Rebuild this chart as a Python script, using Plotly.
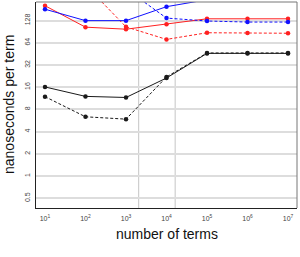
import plotly.graph_objects as go
import math

# ---- data ----
n_terms = [1e1, 1e2, 1e3, 1e4, 1e5, 1e6, 1e7]
black_solid = [16.1, 12.0, 11.6, 21.3, 45.9, 45.9, 45.9]
black_dashed = [11.9, 6.35, 5.9, 22.0, 46.5, 46.5, 46.5]
red_solid = [203, 104, 97.6, 114, 135, 135, 135]
red_dashed = [520, 385, 105, 71, 87.4, 87, 86]
blue_solid = [182, 127.5, 127.5, 197, 245, 260, 260]
blue_dashed = [500, 450, 342, 138, 126, 122, 122]

cache_marks = [2048, 16384]

x_tickvals = [1e1, 1e2, 1e3, 1e4, 1e5, 1e6, 1e7]
x_ticktext = ["10<sup>%d</sup>" % k for k in range(1, 8)]
y_tickvals = [0.5, 1, 2, 4, 8, 16, 32, 64, 128]
y_ticktext = ["0.5", "1", "2", "4", "8", "16", "32", "64", "128"]

FONT = "Liberation Sans, Arial, sans-serif"

series = [
    (black_solid, "#1a1a1a", "solid"),
    (black_dashed, "#1a1a1a", "3px,2px"),
    (red_solid, "#ff2020", "solid"),
    (red_dashed, "#ff2020", "3px,2px"),
    (blue_solid, "#1010ff", "solid"),
    (blue_dashed, "#1010ff", "3px,2px"),
]

fig = go.Figure()
for ys, col, dash in series:
    fig.add_trace(go.Scatter(
        x=n_terms, y=ys, mode="lines+markers",
        line=dict(color=col, width=1, dash=dash),
        marker=dict(color=col, size=4.5, symbol="circle"),
        showlegend=False, cliponaxis=True,
    ))

for c in cache_marks:
    fig.add_shape(type="line", xref="x", yref="paper", x0=c, x1=c, y0=0, y1=1,
                  line=dict(color="#cfcfcf", width=1.2), layer="below")

# top and right border in gray
fig.add_shape(type="line", xref="paper", yref="paper", x0=0, x1=1, y0=1, y1=1,
              line=dict(color="#777777", width=1))
fig.add_shape(type="line", xref="paper", yref="paper", x0=1, x1=1, y0=0, y1=1,
              line=dict(color="#777777", width=1))

W, H = 300, 257
ML, MR, MT, MB = 36, 3, 2, 49
PW, PH = W - ML - MR, H - MT - MB

fig.update_layout(
    width=W, height=H,
    margin=dict(l=ML, r=MR, t=MT, b=MB, autoexpand=False),
    paper_bgcolor="white", plot_bgcolor="white",
    font=dict(family=FONT, color="#333333"),
    hovermode=False,
)
fig.update_xaxes(
    type="log", range=[0.778, 7.222], automargin=False,
    tickvals=x_tickvals, ticktext=x_ticktext,
    tickfont=dict(size=7, color="#444444"),
    showgrid=False, zeroline=False,
    showline=True, linecolor="#222222", linewidth=1,
    ticks="outside", ticklen=4, tickcolor="rgba(0,0,0,0)",
)
fig.update_yaxes(
    type="log", range=[math.log10(0.369), math.log10(228)], automargin=False,
    tickvals=y_tickvals, ticktext=y_ticktext, tickangle=-90,
    tickfont=dict(size=7, color="#444444"),
    showgrid=True, gridcolor="#dddddd", gridwidth=1.6,
    zeroline=False,
    showline=True, linecolor="#222222", linewidth=1,
    ticks="outside", ticklen=2, tickcolor="rgba(0,0,0,0)",
)

# axis titles as annotations (paper coords relative to plot area)
fig.add_annotation(
    text="number of terms", xref="paper", yref="paper",
    x=0.5, y=(H - MB - 234) / PH, xanchor="center", yanchor="middle",
    showarrow=False, font=dict(size=14, color="#111111", family=FONT),
)
fig.add_annotation(
    text="nanoseconds per term", xref="paper", yref="paper",
    x=(9 - ML) / PW, y=0.5, xanchor="center", yanchor="middle", textangle=-90,
    showarrow=False, font=dict(size=14, color="#111111", family=FONT),
)

fig.write_html(
    "out.html",
    config={"displayModeBar": False},
    post_script="document.body.style.margin='0px';document.body.style.padding='0px';",
)
